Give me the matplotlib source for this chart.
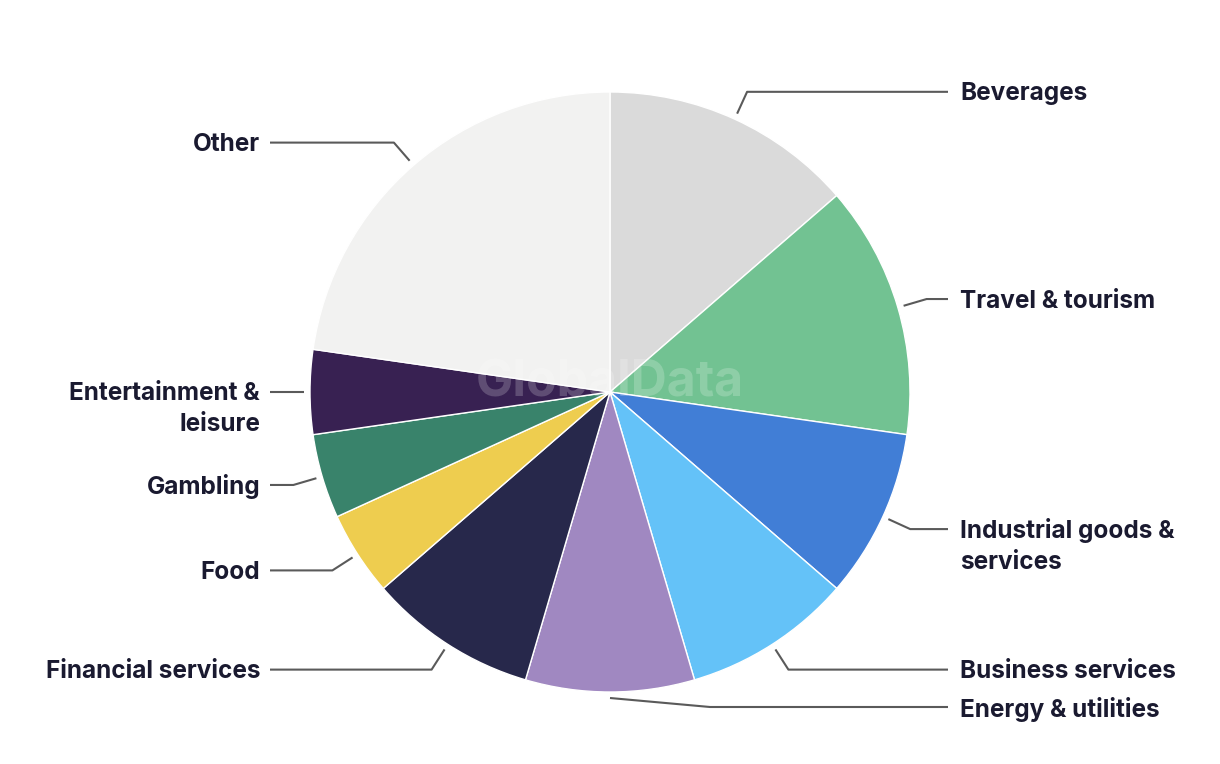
import numpy as np
import matplotlib
matplotlib.use("Agg")
import matplotlib.pyplot as plt

labels = ["Beverages", "Travel & tourism", "Industrial goods &\nservices", "Business services",
          "Energy & utilities", "Financial services", "Food", "Gambling",
          "Entertainment &\nleisure", "Other"]
values = [3, 3, 2, 2, 2, 2, 1, 1, 1, 5]
colors = ["#dadada", "#72c292", "#417ed6", "#64c2f8", "#a088c1", "#27284b",
          "#eecd4f", "#39836b", "#382152", "#f2f2f1"]

plt.rcParams['font.family'] = ['Inter', 'DejaVu Sans']

W, H = 1220, 764
fig = plt.figure(figsize=(W / 100, H / 100), dpi=100)
ax = fig.add_axes([0, 0, 1, 1])
cx, cy, R = 610, 392, 300

wedges, _ = ax.pie(values, colors=colors, startangle=90, counterclock=False, radius=1,
                   wedgeprops=dict(edgecolor='white', linewidth=1.0))
ax.set_aspect('auto')
ax.set_xlim(-cx / R, (W - cx) / R)
ax.set_ylim(-(H - cy) / R, cy / R)
ax.axis('off')

ax.text(0, 0.03, "GlobalData", ha='center', va='center', fontsize=36, fontweight='bold',
        color='white', alpha=0.2, zorder=5)

total = sum(values)
xr, xl = (948 - cx) / R, (270 - cx) / R
tx_r, tx_l = (960 - cx) / R, (260 - cx) / R
line_kw = dict(color='#5a5a5a', lw=1.5, solid_capstyle='butt', zorder=6)
fs = 17.5
tcol = '#1a1a30'
cum = 0
for lab, v in zip(labels, values):
    mid = (cum + v / 2) / total * 2 * np.pi
    cum += v
    sx, sy = 1.02 * np.sin(mid), 1.02 * np.cos(mid)
    ex, ey = 1.1 * np.sin(mid), 1.1 * np.cos(mid)
    if lab.startswith("Energy"):
        ex, ey = (710 - cx) / R, -(707 - cy) / R
    right = np.sin(mid) > 1e-6 or lab.startswith("Energy")
    endx = xr if right else xl
    ax.plot([sx, ex, endx], [sy, ey, ey], **line_kw)
    nlines = lab.count("\n")
    ax.annotate(lab, xy=(tx_r if right else tx_l, ey), xytext=(0, -15 * nlines - 2),
                textcoords='offset pixels', ha='left' if right else 'right',
                va='center', fontsize=fs, fontweight='bold', color=tcol,
                linespacing=1.45, annotation_clip=False)

fig.savefig("out.png", dpi=100, facecolor='white')
